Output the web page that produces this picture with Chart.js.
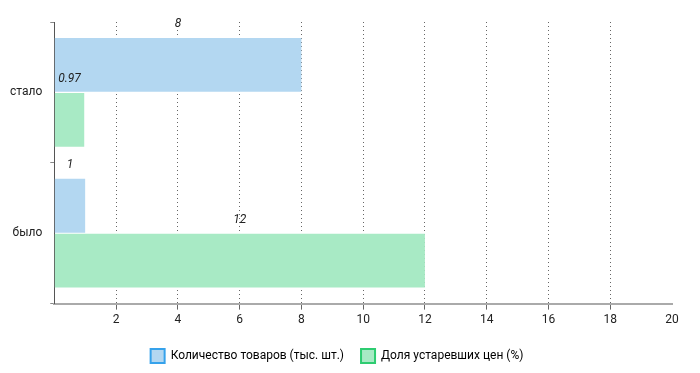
<!DOCTYPE html>
<html>
<head>
<meta charset="utf-8">
<script src="https://cdn.jsdelivr.net/npm/chart.js@4.4.0/dist/chart.umd.min.js"></script>
<style>
  html, body { margin: 0; padding: 0; background: #fff; }
  #wrap { width: 700px; height: 373px; }
</style>
</head>
<body>
<div id="wrap"><canvas id="chart"></canvas></div>
<script>
// данные
const categories = ['стало', 'было'];
const qtyValues = [8, 1];          // Количество товаров (тыс. шт.)
const shareValues = [0.97, 12];    // Доля устаревших цен (%)
const seriesNames = ['Количество товаров (тыс. шт.)', 'Доля устаревших цен (%)'];

const FONT = "'Roboto', sans-serif";

// подписи значений над столбцами
const valueLabels = {
    id: 'valueLabels',
    afterDatasetsDraw(chart) {
        const ctx = chart.ctx;
        ctx.save();
        ctx.font = 'italic 12px ' + FONT;
        ctx.fillStyle = '#222';
        ctx.textAlign = 'center';
        ctx.textBaseline = 'bottom';
        chart.data.datasets.forEach((ds, i) => {
            chart.getDatasetMeta(i).data.forEach((bar, j) => {
                const p = bar.getProps(['x', 'y', 'base', 'height'], true);
                const cx = (p.x + p.base) / 2;
                const top = p.y - p.height / 2;
                ctx.fillText(String(ds.data[j]), cx, top - 8);
            });
        });
        ctx.restore();
    }
};

new Chart(document.getElementById('chart'), {
    type: 'bar',
    data: {
        labels: categories,
        datasets: [
            {
                label: seriesNames[0],
                data: qtyValues,
                backgroundColor: '#b3d7f1',
                borderColor: '#36a2eb',
                borderWidth: 0,
                categoryPercentage: 0.78,
                barPercentage: 0.98,
            },
            {
                label: seriesNames[1],
                data: shareValues,
                backgroundColor: '#a8eac5',
                borderColor: '#2ecc71',
                borderWidth: 0,
                categoryPercentage: 0.78,
                barPercentage: 0.98,
            },
        ],
    },
    options: {
        indexAxis: 'y',
        responsive: true,
        maintainAspectRatio: false,
        animation: false,
        layout: { padding: { top: 22, right: 28, left: 2, bottom: 0 } },
        plugins: {
            legend: {
                position: 'bottom',
                labels: {
                    font: { family: FONT, size: 12 },
                    color: '#222',
                    boxWidth: 14,
                    boxHeight: 14,
                    padding: 17,
                    generateLabels(chart) {
                        return chart.data.datasets.map((ds, i) => ({
                            text: ds.label,
                            fillStyle: ds.backgroundColor,
                            strokeStyle: ds.borderColor,
                            lineWidth: 2,
                            datasetIndex: i,
                            hidden: false,
                        }));
                    },
                },
            },
            tooltip: { enabled: false },
        },
        scales: {
            x: {
                min: 0,
                max: 20,
                afterFit(scale) { scale.height += 2; },
                ticks: {
                    stepSize: 2,
                    color: '#222',
                    padding: 3,
                    font: { family: FONT, size: 12 },
                    callback: v => (v === 0 ? '' : v),
                },
                grid: {
                    color: ctx => (ctx.tick && (ctx.tick.value === 0 || ctx.tick.value === 20)) ? 'rgba(0,0,0,0)' : '#666',
                    tickLength: 6,
                },
                border: { color: '#aaa', width: 2, dash: [1, 3] },
            },
            y: {
                ticks: {
                    color: '#222',
                    padding: 8,
                    font: { family: FONT, size: 12 },
                },
                grid: {
                    drawOnChartArea: false,
                    color: '#888',
                    tickLength: 4,
                },
                border: { color: '#555', width: 1 },
            },
        },
    },
    plugins: [valueLabels],
});
</script>
</body>
</html>
